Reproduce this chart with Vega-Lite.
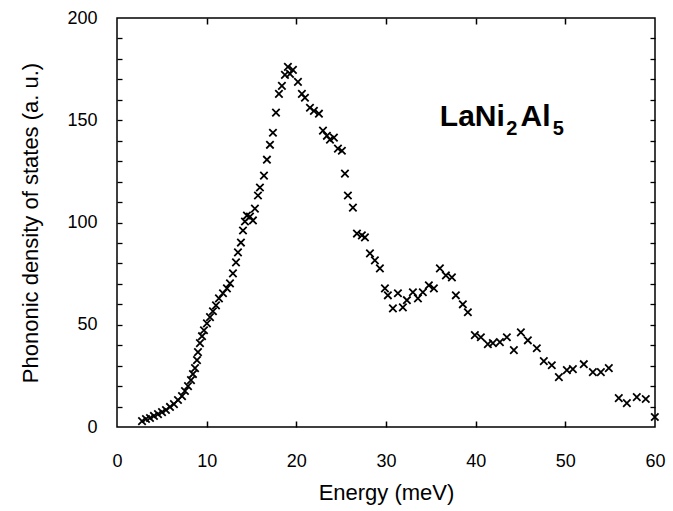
{
  "$schema": "https://vega.github.io/schema/vega-lite/v6.json",
  "width": 538,
  "height": 409,
  "autosize": "none",
  "padding": {"left": 117, "top": 18, "right": 18, "bottom": 84},
  "background": "white",
  "config": {
    "view": {"stroke": "black", "strokeWidth": 1.5},
    "font": "Liberation Sans",
    "axis": {"grid": false, "labelFont": "Liberation Sans", "titleFont": "Liberation Sans", "labelColor": "black", "titleColor": "black", "tickColor": "black", "domain": false}
  },
  "datasets": {
    "pts": [
      {"E": 2.79, "V": 2.9}, {"E": 3.23, "V": 3.9}, {"E": 3.68, "V": 4.4}, {"E": 4.12, "V": 5.4},
      {"E": 4.57, "V": 6.3}, {"E": 5.02, "V": 7.3}, {"E": 5.46, "V": 8.3}, {"E": 5.91, "V": 9.8},
      {"E": 6.35, "V": 11.2}, {"E": 6.8, "V": 13.2}, {"E": 7.25, "V": 15.1}, {"E": 7.58, "V": 17.6},
      {"E": 7.92, "V": 20.0}, {"E": 8.25, "V": 22.9}, {"E": 8.47, "V": 25.9}, {"E": 8.7, "V": 28.8},
      {"E": 8.92, "V": 32.7}, {"E": 9.03, "V": 36.6}, {"E": 9.25, "V": 41.0}, {"E": 9.48, "V": 44.4},
      {"E": 9.7, "V": 47.3}, {"E": 10.03, "V": 50.7}, {"E": 10.37, "V": 53.7}, {"E": 10.7, "V": 56.6},
      {"E": 11.04, "V": 59.5}, {"E": 11.37, "V": 62.9}, {"E": 11.82, "V": 65.4}, {"E": 12.26, "V": 67.8},
      {"E": 12.6, "V": 70.2}, {"E": 12.93, "V": 75.1}, {"E": 13.27, "V": 80.5}, {"E": 13.49, "V": 85.4},
      {"E": 13.82, "V": 90.2}, {"E": 14.05, "V": 96.1}, {"E": 14.27, "V": 100.5}, {"E": 14.49, "V": 103.4},
      {"E": 14.83, "V": 102.9}, {"E": 15.16, "V": 101.0}, {"E": 15.38, "V": 106.8}, {"E": 15.72, "V": 113.2},
      {"E": 15.94, "V": 117.1}, {"E": 16.39, "V": 122.9}, {"E": 16.72, "V": 130.7}, {"E": 17.06, "V": 138.0},
      {"E": 17.39, "V": 143.9}, {"E": 17.73, "V": 153.7}, {"E": 18.06, "V": 162.9}, {"E": 18.39, "V": 166.8},
      {"E": 18.73, "V": 172.2}, {"E": 19.06, "V": 176.1}, {"E": 19.29, "V": 172.7}, {"E": 19.62, "V": 174.6},
      {"E": 20.18, "V": 168.8}, {"E": 20.62, "V": 162.9}, {"E": 20.96, "V": 161.0}, {"E": 21.52, "V": 156.1},
      {"E": 21.96, "V": 154.6}, {"E": 22.52, "V": 153.2}, {"E": 22.97, "V": 144.9}, {"E": 23.41, "V": 142.4},
      {"E": 23.75, "V": 140.5}, {"E": 24.19, "V": 141.5}, {"E": 24.64, "V": 136.1}, {"E": 25.08, "V": 135.1},
      {"E": 25.42, "V": 123.9}, {"E": 25.75, "V": 113.2}, {"E": 26.31, "V": 107.3}, {"E": 26.76, "V": 94.6},
      {"E": 27.31, "V": 93.7}, {"E": 27.65, "V": 92.7}, {"E": 28.21, "V": 84.9}, {"E": 28.76, "V": 81.5},
      {"E": 29.32, "V": 77.6}, {"E": 29.88, "V": 67.8}, {"E": 30.21, "V": 64.4}, {"E": 30.77, "V": 58.0},
      {"E": 31.33, "V": 65.4}, {"E": 31.88, "V": 58.5}, {"E": 32.33, "V": 62.0}, {"E": 33.0, "V": 65.9},
      {"E": 33.56, "V": 62.9}, {"E": 34.11, "V": 65.9}, {"E": 34.78, "V": 69.3}, {"E": 35.34, "V": 67.8},
      {"E": 36.01, "V": 77.6}, {"E": 36.68, "V": 74.1}, {"E": 37.35, "V": 73.2}, {"E": 37.79, "V": 64.4},
      {"E": 38.57, "V": 60.0}, {"E": 39.13, "V": 56.1}, {"E": 39.91, "V": 44.9}, {"E": 40.58, "V": 43.9},
      {"E": 41.36, "V": 40.5}, {"E": 41.92, "V": 41.0}, {"E": 42.7, "V": 41.5}, {"E": 43.48, "V": 43.9},
      {"E": 44.26, "V": 37.6}, {"E": 45.04, "V": 46.3}, {"E": 45.82, "V": 42.4}, {"E": 46.82, "V": 38.5},
      {"E": 47.6, "V": 32.2}, {"E": 48.49, "V": 30.2}, {"E": 49.28, "V": 24.4}, {"E": 50.17, "V": 27.8},
      {"E": 50.84, "V": 28.3}, {"E": 52.06, "V": 30.7}, {"E": 53.07, "V": 26.8}, {"E": 53.96, "V": 26.8},
      {"E": 54.85, "V": 28.8}, {"E": 55.96, "V": 14.1}, {"E": 56.86, "V": 11.7}, {"E": 57.97, "V": 14.6},
      {"E": 58.97, "V": 13.7}, {"E": 59.98, "V": 4.9}
    ],
    "lbl": [
      {"t": "LaNi", "E": 36.0, "V": 147.2, "role": "main"},
      {"t": "2", "E": 43.4, "V": 143.0, "role": "sub"},
      {"t": "Al", "E": 45.0, "V": 147.2, "role": "main"},
      {"t": "5", "E": 48.6, "V": 143.0, "role": "sub"}
    ]
  },
  "resolve": {"axis": {"x": "independent", "y": "independent"}},
  "layer": [
    {
      "data": {"name": "pts"},
      "mark": {"type": "point", "shape": "M-1,-1L1,1M-1,1L1,-1", "size": 55, "filled": false, "stroke": "black", "strokeWidth": 1.8, "opacity": 1},
      "encoding": {
        "x": {"field": "E", "type": "quantitative", "scale": {"domain": [0, 60], "nice": false, "zero": false},
              "axis": {"orient": "bottom", "values": [0, 10, 20, 30, 40, 50, 60], "ticks": false, "labelPadding": 25, "labelFontSize": 18, "labelFlush": false, "title": "Energy (meV)", "titleFontSize": 22, "titleFontWeight": "normal", "titlePadding": 12}},
        "y": {"field": "V", "type": "quantitative", "scale": {"domain": [0, 200], "nice": false},
              "axis": {"orient": "left", "values": [0, 50, 100, 150, 200], "ticks": false, "labelPadding": 20, "labelFontSize": 18, "labelFlush": false, "labelBaseline": "middle", "title": "Phononic density of states (a. u.)", "titleFontSize": 22, "titleFontWeight": "normal", "titlePadding": 24}}
      }
    },
    {
      "data": {"name": "pts"},
      "mark": {"type": "point", "opacity": 0},
      "encoding": {
        "x": {"field": "E", "type": "quantitative", "scale": {"domain": [0, 60], "nice": false, "zero": false},
              "axis": {"orient": "bottom", "values": [10, 20, 30, 40, 50], "labels": false, "ticks": true, "tickSize": -6, "tickWidth": 1.5, "title": null}},
        "y": {"field": "V", "type": "quantitative", "scale": {"domain": [0, 200], "nice": false},
              "axis": {"orient": "left", "values": [10, 20, 30, 40, 50, 60, 70, 80, 90, 100, 110, 120, 130, 140, 150, 160, 170, 180, 190], "labels": false, "ticks": true, "tickSize": -5, "tickWidth": 1.3, "title": null}}
      }
    },
    {
      "data": {"name": "pts"},
      "mark": {"type": "point", "opacity": 0},
      "encoding": {
        "x": {"field": "E", "type": "quantitative", "scale": {"domain": [0, 60], "nice": false, "zero": false},
              "axis": {"orient": "top", "values": [10, 20, 30, 40, 50], "labels": false, "ticks": true, "tickSize": -6, "tickWidth": 1.5, "title": null}},
        "y": {"field": "V", "type": "quantitative", "scale": {"domain": [0, 200], "nice": false},
              "axis": {"orient": "right", "values": [10, 20, 30, 40, 50, 60, 70, 80, 90, 100, 110, 120, 130, 140, 150, 160, 170, 180, 190], "labels": false, "ticks": true, "tickSize": -5, "tickWidth": 1.3, "title": null}}
      }
    },
    {
      "data": {"name": "lbl"},
      "transform": [{"filter": "datum.role == 'main'"}],
      "mark": {"type": "text", "align": "left", "baseline": "alphabetic", "font": "Liberation Sans", "fontWeight": "bold", "fontSize": 30, "color": "black"},
      "encoding": {
        "x": {"field": "E", "type": "quantitative", "axis": null},
        "y": {"field": "V", "type": "quantitative", "axis": null},
        "text": {"field": "t"}
      }
    },
    {
      "data": {"name": "lbl"},
      "transform": [{"filter": "datum.role == 'sub'"}],
      "mark": {"type": "text", "align": "left", "baseline": "alphabetic", "font": "Liberation Sans", "fontWeight": "bold", "fontSize": 20, "color": "black"},
      "encoding": {
        "x": {"field": "E", "type": "quantitative", "axis": null},
        "y": {"field": "V", "type": "quantitative", "axis": null},
        "text": {"field": "t"}
      }
    }
  ]
}
